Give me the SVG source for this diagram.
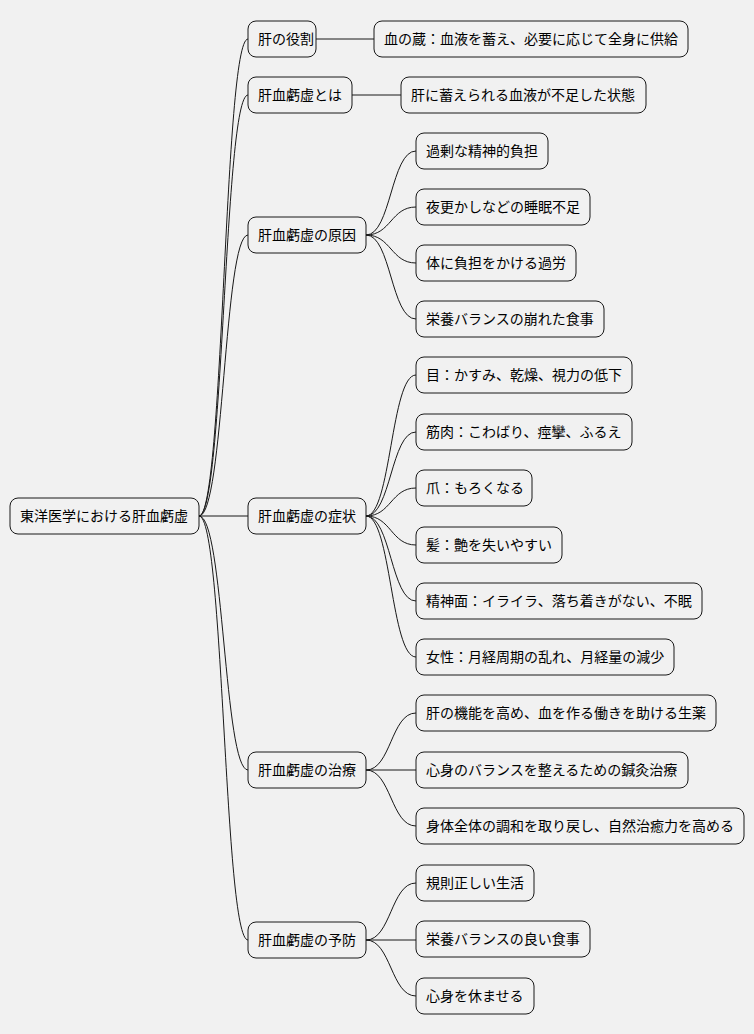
<svg xmlns="http://www.w3.org/2000/svg" width="754" height="1034" viewBox="0 0 754 1034">
<style>
rect{fill:#f1f1f1;stroke:#181818;stroke-width:1}
text{font-family:"Noto Sans CJK JP","Noto Sans",sans-serif;font-size:14px;fill:#000}
.c path{fill:none;stroke:#181818;stroke-width:1}
</style>
<rect width="754" height="1034" fill="#fff" style="stroke:none"/>
<g class="c">
<path d="M199 516 C224 516 224 39 248 39"/>
<path d="M199 516 C224 516 224 95 248 95"/>
<path d="M199 516 C224 516 224 235 248 235"/>
<path d="M199 516 L248 516"/>
<path d="M199 516 C224 516 224 770 248 770"/>
<path d="M199 516 C224 516 224 940 248 940"/>
<path d="M316 39 L374 39"/>
<path d="M352 95 L401 95"/>
<path d="M366 235 C391 235 391 151 416 151"/>
<path d="M366 235 C391 235 391 207 416 207"/>
<path d="M366 235 C391 235 391 263 416 263"/>
<path d="M366 235 C391 235 391 319 416 319"/>
<path d="M366 516 C391 516 391 375 416 375"/>
<path d="M366 516 C391 516 391 432 416 432"/>
<path d="M366 516 C391 516 391 488 416 488"/>
<path d="M366 516 C391 516 391 545 416 545"/>
<path d="M366 516 C391 516 391 601 416 601"/>
<path d="M366 516 C391 516 391 657 416 657"/>
<path d="M366 770 C391 770 391 713 416 713"/>
<path d="M366 770 L416 770"/>
<path d="M366 770 C391 770 391 826 416 826"/>
<path d="M366 940 C391 940 391 883 416 883"/>
<path d="M366 940 L416 940"/>
<path d="M366 940 C391 940 391 996 416 996"/>
</g>
<g id="root"><rect x="10" y="498" width="189" height="36" rx="8"/><text x="20" y="521">東洋医学における肝血虧虚</text></g>
<g id="n1"><rect x="248" y="21" width="68" height="36" rx="8"/><text x="258" y="44">肝の役割</text></g>
<g id="n2"><rect x="248" y="77" width="104" height="36" rx="8"/><text x="258" y="100">肝血虧虚とは</text></g>
<g id="n3"><rect x="248" y="217" width="118" height="36" rx="8"/><text x="258" y="240">肝血虧虚の原因</text></g>
<g id="n4"><rect x="248" y="498" width="118" height="36" rx="8"/><text x="258" y="521">肝血虧虚の症状</text></g>
<g id="n5"><rect x="248" y="752" width="118" height="36" rx="8"/><text x="258" y="775">肝血虧虚の治療</text></g>
<g id="n6"><rect x="248" y="922" width="118" height="36" rx="8"/><text x="258" y="945">肝血虧虚の予防</text></g>
<g id="n1a"><rect x="374" y="21" width="314" height="36" rx="8"/><text x="384" y="44">血の蔵：血液を蓄え、必要に応じて全身に供給</text></g>
<g id="n2a"><rect x="401" y="77" width="245" height="36" rx="8"/><text x="411" y="100">肝に蓄えられる血液が不足した状態</text></g>
<g id="n3a"><rect x="416" y="133" width="132" height="36" rx="8"/><text x="426" y="156">過剰な精神的負担</text></g>
<g id="n3b"><rect x="416" y="189" width="174" height="36" rx="8"/><text x="426" y="212">夜更かしなどの睡眠不足</text></g>
<g id="n3c"><rect x="416" y="245" width="160" height="36" rx="8"/><text x="426" y="268">体に負担をかける過労</text></g>
<g id="n3d"><rect x="416" y="301" width="188" height="36" rx="8"/><text x="426" y="324">栄養バランスの崩れた食事</text></g>
<g id="n4a"><rect x="416" y="357" width="216" height="36" rx="8"/><text x="426" y="380">目：かすみ、乾燥、視力の低下</text></g>
<g id="n4b"><rect x="416" y="414" width="216" height="36" rx="8"/><text x="426" y="437">筋肉：こわばり、痙攣、ふるえ</text></g>
<g id="n4c"><rect x="416" y="470" width="116" height="36" rx="8"/><text x="426" y="493">爪：もろくなる</text></g>
<g id="n4d"><rect x="416" y="527" width="146" height="36" rx="8"/><text x="426" y="550">髪：艶を失いやすい</text></g>
<g id="n4e"><rect x="416" y="583" width="286" height="36" rx="8"/><text x="426" y="606">精神面：イライラ、落ち着きがない、不眠</text></g>
<g id="n4f"><rect x="416" y="639" width="258" height="36" rx="8"/><text x="426" y="662">女性：月経周期の乱れ、月経量の減少</text></g>
<g id="n5a"><rect x="416" y="695" width="300" height="36" rx="8"/><text x="426" y="718">肝の機能を高め、血を作る働きを助ける生薬</text></g>
<g id="n5b"><rect x="416" y="752" width="272" height="36" rx="8"/><text x="426" y="775">心身のバランスを整えるための鍼灸治療</text></g>
<g id="n5c"><rect x="416" y="808" width="328" height="36" rx="8"/><text x="426" y="831">身体全体の調和を取り戻し、自然治癒力を高める</text></g>
<g id="n6a"><rect x="416" y="865" width="118" height="36" rx="8"/><text x="426" y="888">規則正しい生活</text></g>
<g id="n6b"><rect x="416" y="921" width="174" height="36" rx="8"/><text x="426" y="944">栄養バランスの良い食事</text></g>
<g id="n6c"><rect x="416" y="978" width="118" height="36" rx="8"/><text x="426" y="1001">心身を休ませる</text></g>
</svg>
